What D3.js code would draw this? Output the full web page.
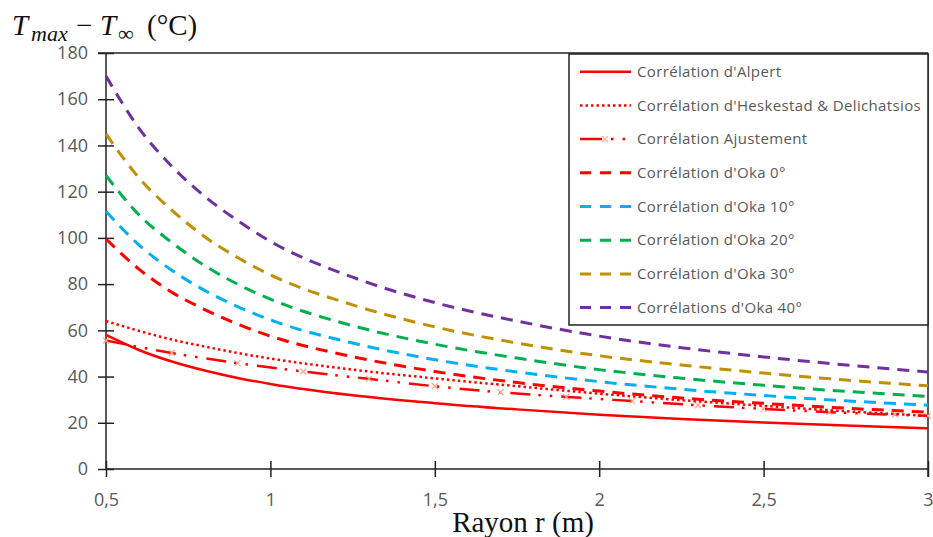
<!DOCTYPE html>
<html><head><meta charset="utf-8">
<script src="https://cdn.jsdelivr.net/npm/d3@7"></script>
<style>html,body{margin:0;padding:0;background:#fff;}svg{display:block;}</style>
</head><body>
<svg id="chart" width="933" height="537"></svg>
<script>
// ---- data ----
const rValues = [0.5,0.6,0.7,0.8,0.9,1,1.25,1.5,1.75,2,2.25,2.5,2.75,3];
const alpert     = [58,51.5,46.5,42.6,39.4,36.8,31.9,28.5,25.8,23.5,21.6,20.1,18.8,17.6];
const heskestad  = [64,59.8,56,53,50.2,47.8,43,39.2,35.8,32.6,29.8,27.3,25,23];
const ajustR     = [0.5,0.7,0.9,1.1,1.3,1.5,1.7,1.9,2.1,2.3,2.5,2.7,2.9,3];
const ajustement = [55.6,50.2,45.8,42.2,39,35.8,33.2,31.2,29.4,27.6,26,24.6,23.5,23];
const oka0  = [99.5,86.5,76.5,69,62.7,57.5,48.6,42.2,37.4,33.7,30.7,28.4,26.3,24.6];
const oka10 = [111.5,97,86,77.3,70.3,64.5,54.5,47.3,42,37.8,34.5,31.8,29.5,27.6];
const oka20 = [127,110,98,88,80,73.5,62,54,48,43,39.3,36.2,33.6,31.4];
const oka30 = [145,126,112,100.5,91.5,84,71,61.5,54.5,49,45,41.5,38.5,36];
const oka40 = [170,147.5,131,118,107.5,98.5,83,72,64,57.5,52.5,48.5,45,42];
const xTicks = [0.5,1,1.5,2,2.5,3];
const yTicks = [0,20,40,60,80,100,120,140,160,180];
const legendLabels = ["Corrélation d'Alpert","Corrélation d'Heskestad & Delichatsios","Corrélation Ajustement",
  "Corrélation d'Oka 0°","Corrélation d'Oka 10°","Corrélation d'Oka 20°","Corrélation d'Oka 30°","Corrélations d'Oka 40°"];

// ---- layout ----
const svg = d3.select("#chart");
const L = 106, R = 928, T = 53, B = 469;
const x = d3.scaleLinear().domain([0.5,3]).range([L,R]);
const y = d3.scaleLinear().domain([0,180]).range([B,T]);
const fmt = d => String(d).replace(".", ",");

const series = [
  {name:legendLabels[0], xs:rValues, ys:alpert, color:"#ff0000", dash:null, w:2.5},
  {name:legendLabels[1], xs:rValues, ys:heskestad, color:"#ff0000", dash:"2.5,3", w:2.5},
  {name:legendLabels[2], xs:ajustR, ys:ajustement, color:"#ff0000", dash:"20,8,2.5,9,2.5,9", w:2.5, marker:true},
  {name:legendLabels[3], xs:rValues, ys:oka0, color:"#ff0000", dash:"12,8", w:3},
  {name:legendLabels[4], xs:rValues, ys:oka10, color:"#00b0f0", dash:"12,8", w:3},
  {name:legendLabels[5], xs:rValues, ys:oka20, color:"#00b050", dash:"12,8", w:3},
  {name:legendLabels[6], xs:rValues, ys:oka30, color:"#bf9000", dash:"12,8", w:3},
  {name:legendLabels[7], xs:rValues, ys:oka40, color:"#7030a0", dash:"12,8", w:3}
];

// frame (top & right)
svg.append("line").attr("x1",L-8).attr("x2",R).attr("y1",T).attr("y2",T).attr("stroke","#222").attr("stroke-width",1.5);
svg.append("line").attr("x1",R).attr("x2",R).attr("y1",T).attr("y2",B+8).attr("stroke","#222").attr("stroke-width",1.5);

// axes
const xAxis = svg.append("g").attr("transform",`translate(0,${B})`)
  .call(d3.axisBottom(x).tickValues(xTicks).tickFormat(fmt).tickSize(8).tickPadding(16));
xAxis.selectAll(".tick line").attr("y1",-8).attr("y2",8);
const yAxis = svg.append("g").attr("transform",`translate(${L},0)`)
  .call(d3.axisLeft(y).tickValues(yTicks).tickSize(8).tickPadding(10));
yAxis.selectAll(".tick line").attr("x1",-8).attr("x2",8);
[xAxis,yAxis].forEach(a=>{
  a.select(".domain").attr("stroke","#222").attr("stroke-width",1.5);
  a.selectAll(".tick line").attr("stroke","#222").attr("stroke-width",1.5);
  a.selectAll(".tick text").attr("fill","#595959").style("font-family","'Open Sans'").style("font-size","18px");
});
xAxis.select(".domain").attr("d",`M${L},0H${R}`);
yAxis.select(".domain").attr("d",`M0,${B}V${T}`);

// lines
const line = d3.line().curve(d3.curveMonotoneX);
const plot = svg.append("g");
series.slice().reverse().forEach(s=>{
  const pts = s.xs.map((v,i)=>[x(v),y(s.ys[i])]);
  const p = plot.append("path").attr("d",line(pts)).attr("fill","none")
    .attr("stroke",s.color).attr("stroke-width",s.w);
  if(s.dash) p.attr("stroke-dasharray",s.dash);
  if(s.marker){
    plot.selectAll(null).data(pts).enter().append("path")
      .attr("d",d=>`M${d[0]-3},${d[1]-3}L${d[0]+3},${d[1]+3}M${d[0]-3},${d[1]+3}L${d[0]+3},${d[1]-3}`)
      .attr("stroke","#f7a98c").attr("stroke-width",1.2).attr("fill","none");
  }
});

// legend
const lg = svg.append("g");
lg.append("rect").attr("x",569).attr("y",54).attr("width",359).attr("height",271)
  .attr("fill","#fff").attr("stroke","#222").attr("stroke-width",1.5);
series.forEach((s,i)=>{
  const yy = 71.7 + i*33.7;
  const l = lg.append("line").attr("x1",580).attr("x2",631).attr("y1",yy).attr("y2",yy)
    .attr("stroke",s.color).attr("stroke-width",s.w);
  if(s.dash){
    if(s.marker) l.attr("stroke-dasharray","22,9,2.5,9,2.5,9");
    else if(s.dash==="12,8") l.attr("stroke-dasharray","11,9");
    else l.attr("stroke-dasharray",s.dash);
  }
  if(s.marker){
    lg.append("path").attr("d",`M602,${yy-3}L608,${yy+3}M602,${yy+3}L608,${yy-3}`)
      .attr("stroke","#f7a98c").attr("stroke-width",1.2);
  }
  lg.append("text").attr("x",637).attr("y",yy).attr("dy","0.35em")
    .attr("fill","#595959").style("font-family","'Open Sans'").style("font-size","15px")
    .style("letter-spacing","0.35px").text(s.name);
});

// titles
const yt = svg.append("text").attr("y",35).attr("fill","#111")
  .style("font-family","'Liberation Serif'").style("font-size","29px");
yt.append("tspan").attr("x",12).style("font-style","italic").text("T");
yt.append("tspan").attr("x",31).style("font-style","italic").style("font-size","22px").attr("dy",6).text("max");
yt.append("tspan").attr("x",76).attr("dy",-6).text("−");
yt.append("tspan").attr("x",100).style("font-style","italic").text("T");
yt.append("tspan").attr("x",118).style("font-size","22px").attr("dy",6).text("∞");
yt.append("tspan").attr("x",147).attr("dy",-6).text("(°C)");

svg.append("text").attr("x",523).attr("y",532).attr("text-anchor","middle").attr("fill","#111")
  .style("font-family","'Liberation Serif'").style("font-size","29px").text("Rayon r (m)");
</script>
</body></html>
